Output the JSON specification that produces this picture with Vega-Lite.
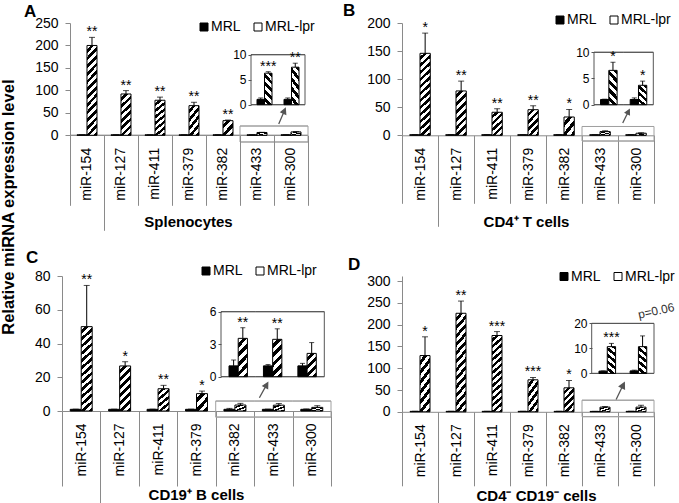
{
"$schema": "https://vega.github.io/schema/vega-lite/v6.json",
"background": "white",
"padding": {"left": 0, "top": 2, "right": 0, "bottom": 0},
"params": [
{"name": "M90", "value": {"gradient": "linear", "x1": 0, "y1": 0, "x2": 0.1285, "y2": 1.1017, "stops": [{"offset":0,"color":"#fff"},{"offset":0.0385,"color":"#fff"},{"offset":0.0385,"color":"#000"},{"offset":0.0769,"color":"#000"},{"offset":0.0769,"color":"#fff"},{"offset":0.1154,"color":"#fff"},{"offset":0.1154,"color":"#000"},{"offset":0.1538,"color":"#000"},{"offset":0.1538,"color":"#fff"},{"offset":0.1923,"color":"#fff"},{"offset":0.1923,"color":"#000"},{"offset":0.2308,"color":"#000"},{"offset":0.2308,"color":"#fff"},{"offset":0.2692,"color":"#fff"},{"offset":0.2692,"color":"#000"},{"offset":0.3077,"color":"#000"},{"offset":0.3077,"color":"#fff"},{"offset":0.3462,"color":"#fff"},{"offset":0.3462,"color":"#000"},{"offset":0.3846,"color":"#000"},{"offset":0.3846,"color":"#fff"},{"offset":0.4231,"color":"#fff"},{"offset":0.4231,"color":"#000"},{"offset":0.4615,"color":"#000"},{"offset":0.4615,"color":"#fff"},{"offset":0.5,"color":"#fff"},{"offset":0.5,"color":"#000"},{"offset":0.5385,"color":"#000"},{"offset":0.5385,"color":"#fff"},{"offset":0.5769,"color":"#fff"},{"offset":0.5769,"color":"#000"},{"offset":0.6154,"color":"#000"},{"offset":0.6154,"color":"#fff"},{"offset":0.6538,"color":"#fff"},{"offset":0.6538,"color":"#000"},{"offset":0.6923,"color":"#000"},{"offset":0.6923,"color":"#fff"},{"offset":0.7308,"color":"#fff"},{"offset":0.7308,"color":"#000"},{"offset":0.7692,"color":"#000"},{"offset":0.7692,"color":"#fff"},{"offset":0.8077,"color":"#fff"},{"offset":0.8077,"color":"#000"},{"offset":0.8462,"color":"#000"},{"offset":0.8462,"color":"#fff"},{"offset":0.8846,"color":"#fff"},{"offset":0.8846,"color":"#000"},{"offset":0.9231,"color":"#000"},{"offset":0.9231,"color":"#fff"},{"offset":0.9615,"color":"#fff"},{"offset":0.9615,"color":"#000"},{"offset":1,"color":"#000"}]}},
{"name": "M45", "value": {"gradient": "linear", "x1": 0, "y1": 0, "x2": 0.2729, "y2": 1.1696, "stops": [{"offset":0,"color":"#fff"},{"offset":0.0714,"color":"#fff"},{"offset":0.0714,"color":"#000"},{"offset":0.1429,"color":"#000"},{"offset":0.1429,"color":"#fff"},{"offset":0.2143,"color":"#fff"},{"offset":0.2143,"color":"#000"},{"offset":0.2857,"color":"#000"},{"offset":0.2857,"color":"#fff"},{"offset":0.3571,"color":"#fff"},{"offset":0.3571,"color":"#000"},{"offset":0.4286,"color":"#000"},{"offset":0.4286,"color":"#fff"},{"offset":0.5,"color":"#fff"},{"offset":0.5,"color":"#000"},{"offset":0.5714,"color":"#000"},{"offset":0.5714,"color":"#fff"},{"offset":0.6429,"color":"#fff"},{"offset":0.6429,"color":"#000"},{"offset":0.7143,"color":"#000"},{"offset":0.7143,"color":"#fff"},{"offset":0.7857,"color":"#fff"},{"offset":0.7857,"color":"#000"},{"offset":0.8571,"color":"#000"},{"offset":0.8571,"color":"#fff"},{"offset":0.9286,"color":"#fff"},{"offset":0.9286,"color":"#000"},{"offset":1,"color":"#000"}]}},
{"name": "M25", "value": {"gradient": "linear", "x1": 0, "y1": 0, "x2": 0.507, "y2": 1.207, "stops": [{"offset":0,"color":"#fff"},{"offset":0.1,"color":"#fff"},{"offset":0.1,"color":"#000"},{"offset":0.2,"color":"#000"},{"offset":0.2,"color":"#fff"},{"offset":0.3,"color":"#fff"},{"offset":0.3,"color":"#000"},{"offset":0.4,"color":"#000"},{"offset":0.4,"color":"#fff"},{"offset":0.5,"color":"#fff"},{"offset":0.5,"color":"#000"},{"offset":0.6,"color":"#000"},{"offset":0.6,"color":"#fff"},{"offset":0.7,"color":"#fff"},{"offset":0.7,"color":"#000"},{"offset":0.8,"color":"#000"},{"offset":0.8,"color":"#fff"},{"offset":0.9,"color":"#fff"},{"offset":0.9,"color":"#000"},{"offset":1,"color":"#000"}]}},
{"name": "M15", "value": {"gradient": "linear", "x1": 0, "y1": 0, "x2": 0.7987, "y2": 1.141, "stops": [{"offset":0,"color":"#fff"},{"offset":0.1667,"color":"#fff"},{"offset":0.1667,"color":"#000"},{"offset":0.3333,"color":"#000"},{"offset":0.3333,"color":"#fff"},{"offset":0.5,"color":"#fff"},{"offset":0.5,"color":"#000"},{"offset":0.6667,"color":"#000"},{"offset":0.6667,"color":"#fff"},{"offset":0.8333,"color":"#fff"},{"offset":0.8333,"color":"#000"},{"offset":1,"color":"#000"}]}},
{"name": "I33", "value": {"gradient": "linear", "x1": 0, "y1": 1, "x2": 0.296, "y2": -0.177, "stops": [{"offset":0,"color":"#fff"},{"offset":0.1,"color":"#fff"},{"offset":0.1,"color":"#000"},{"offset":0.2,"color":"#000"},{"offset":0.2,"color":"#fff"},{"offset":0.3,"color":"#fff"},{"offset":0.3,"color":"#000"},{"offset":0.4,"color":"#000"},{"offset":0.4,"color":"#fff"},{"offset":0.5,"color":"#fff"},{"offset":0.5,"color":"#000"},{"offset":0.6,"color":"#000"},{"offset":0.6,"color":"#fff"},{"offset":0.7,"color":"#fff"},{"offset":0.7,"color":"#000"},{"offset":0.8,"color":"#000"},{"offset":0.8,"color":"#fff"},{"offset":0.9,"color":"#fff"},{"offset":0.9,"color":"#000"},{"offset":1,"color":"#000"}]}},
{"name": "I22", "value": {"gradient": "linear", "x1": 0, "y1": 1, "x2": 0.455, "y2": -0.206, "stops": [{"offset":0,"color":"#fff"},{"offset":0.125,"color":"#fff"},{"offset":0.125,"color":"#000"},{"offset":0.25,"color":"#000"},{"offset":0.25,"color":"#fff"},{"offset":0.375,"color":"#fff"},{"offset":0.375,"color":"#000"},{"offset":0.5,"color":"#000"},{"offset":0.5,"color":"#fff"},{"offset":0.625,"color":"#fff"},{"offset":0.625,"color":"#000"},{"offset":0.75,"color":"#000"},{"offset":0.75,"color":"#fff"},{"offset":0.875,"color":"#fff"},{"offset":0.875,"color":"#000"},{"offset":1,"color":"#000"}]}},
{"name": "IC33", "value": {"gradient": "linear", "x1": 0, "y1": 0, "x2": 0.296, "y2": 1.177, "stops": [{"offset":0,"color":"#fff"},{"offset":0.1,"color":"#fff"},{"offset":0.1,"color":"#000"},{"offset":0.2,"color":"#000"},{"offset":0.2,"color":"#fff"},{"offset":0.3,"color":"#fff"},{"offset":0.3,"color":"#000"},{"offset":0.4,"color":"#000"},{"offset":0.4,"color":"#fff"},{"offset":0.5,"color":"#fff"},{"offset":0.5,"color":"#000"},{"offset":0.6,"color":"#000"},{"offset":0.6,"color":"#fff"},{"offset":0.7,"color":"#fff"},{"offset":0.7,"color":"#000"},{"offset":0.8,"color":"#000"},{"offset":0.8,"color":"#fff"},{"offset":0.9,"color":"#fff"},{"offset":0.9,"color":"#000"},{"offset":1,"color":"#000"}]}},
{"name": "IC22", "value": {"gradient": "linear", "x1": 0, "y1": 0, "x2": 0.455, "y2": 1.206, "stops": [{"offset":0,"color":"#fff"},{"offset":0.125,"color":"#fff"},{"offset":0.125,"color":"#000"},{"offset":0.25,"color":"#000"},{"offset":0.25,"color":"#fff"},{"offset":0.375,"color":"#fff"},{"offset":0.375,"color":"#000"},{"offset":0.5,"color":"#000"},{"offset":0.5,"color":"#fff"},{"offset":0.625,"color":"#fff"},{"offset":0.625,"color":"#000"},{"offset":0.75,"color":"#000"},{"offset":0.75,"color":"#fff"},{"offset":0.875,"color":"#fff"},{"offset":0.875,"color":"#000"},{"offset":1,"color":"#000"}]}}
],
"datasets": {
"A": [
{"mir":"miR-154","strain":"MRL","value":1,"hi":1.2},{"mir":"miR-154","strain":"MRL-lpr","value":200,"hi":218,"sig":"**"},
{"mir":"miR-127","strain":"MRL","value":1,"hi":1.2},{"mir":"miR-127","strain":"MRL-lpr","value":92,"hi":99.5,"sig":"**"},
{"mir":"miR-411","strain":"MRL","value":1,"hi":1.2},{"mir":"miR-411","strain":"MRL-lpr","value":78,"hi":85,"sig":"**"},
{"mir":"miR-379","strain":"MRL","value":1,"hi":1.2},{"mir":"miR-379","strain":"MRL-lpr","value":66,"hi":73.5,"sig":"**"},
{"mir":"miR-382","strain":"MRL","value":1,"hi":1.2},{"mir":"miR-382","strain":"MRL-lpr","value":32.6,"hi":34,"sig":"**"},
{"mir":"miR-433","strain":"MRL","value":1.07,"hi":1.35},{"mir":"miR-433","strain":"MRL-lpr","value":6.3,"hi":6.6,"sig":"***"},
{"mir":"miR-300","strain":"MRL","value":1.07,"hi":1.35},{"mir":"miR-300","strain":"MRL-lpr","value":7.5,"hi":8.3,"sig":"**"}
],
"B": [
{"mir":"miR-154","strain":"MRL","value":1,"hi":1.1},{"mir":"miR-154","strain":"MRL-lpr","value":146,"hi":182,"sig":"*"},
{"mir":"miR-127","strain":"MRL","value":1,"hi":1.1},{"mir":"miR-127","strain":"MRL-lpr","value":79,"hi":96.5,"sig":"**"},
{"mir":"miR-411","strain":"MRL","value":1,"hi":1.1},{"mir":"miR-411","strain":"MRL-lpr","value":41,"hi":47.3,"sig":"**"},
{"mir":"miR-379","strain":"MRL","value":1,"hi":1.1},{"mir":"miR-379","strain":"MRL-lpr","value":45.6,"hi":52.6,"sig":"**"},
{"mir":"miR-382","strain":"MRL","value":1,"hi":1.1},{"mir":"miR-382","strain":"MRL-lpr","value":32.6,"hi":46,"sig":"*"},
{"mir":"miR-433","strain":"MRL","value":1,"hi":1.05},{"mir":"miR-433","strain":"MRL-lpr","value":6.55,"hi":8.1,"sig":"*"},
{"mir":"miR-300","strain":"MRL","value":1,"hi":1.3},{"mir":"miR-300","strain":"MRL-lpr","value":3.7,"hi":4.5,"sig":"*"}
],
"C": [
{"mir":"miR-154","strain":"MRL","value":1,"hi":1.1},{"mir":"miR-154","strain":"MRL-lpr","value":50,"hi":74.4,"sig":"**"},
{"mir":"miR-127","strain":"MRL","value":1,"hi":1.1},{"mir":"miR-127","strain":"MRL-lpr","value":26.7,"hi":29.2,"sig":"*"},
{"mir":"miR-411","strain":"MRL","value":1,"hi":1.1},{"mir":"miR-411","strain":"MRL-lpr","value":13.2,"hi":15.2,"sig":"**"},
{"mir":"miR-379","strain":"MRL","value":1,"hi":1.1},{"mir":"miR-379","strain":"MRL-lpr","value":10.3,"hi":11.8,"sig":"*"},
{"mir":"miR-382","strain":"MRL","value":1,"hi":1.54},{"mir":"miR-382","strain":"MRL-lpr","value":3.54,"hi":4.52,"sig":"**"},
{"mir":"miR-433","strain":"MRL","value":1,"hi":1.12},{"mir":"miR-433","strain":"MRL-lpr","value":3.45,"hi":4.42,"sig":"**"},
{"mir":"miR-300","strain":"MRL","value":1,"hi":1.23},{"mir":"miR-300","strain":"MRL-lpr","value":2.15,"hi":3.15}
],
"D": [
{"mir":"miR-154","strain":"MRL","value":1,"hi":1.2},{"mir":"miR-154","strain":"MRL-lpr","value":129,"hi":172,"sig":"*"},
{"mir":"miR-127","strain":"MRL","value":1,"hi":1.2},{"mir":"miR-127","strain":"MRL-lpr","value":226,"hi":254,"sig":"**"},
{"mir":"miR-411","strain":"MRL","value":1,"hi":1.2},{"mir":"miR-411","strain":"MRL-lpr","value":175,"hi":184,"sig":"***"},
{"mir":"miR-379","strain":"MRL","value":1,"hi":1.2},{"mir":"miR-379","strain":"MRL-lpr","value":73.4,"hi":78.7,"sig":"***"},
{"mir":"miR-382","strain":"MRL","value":1,"hi":1.2},{"mir":"miR-382","strain":"MRL-lpr","value":55,"hi":71.8,"sig":"*"},
{"mir":"miR-433","strain":"MRL","value":0.9,"hi":1.0},{"mir":"miR-433","strain":"MRL-lpr","value":10.7,"hi":12.0,"sig":"***"},
{"mir":"miR-300","strain":"MRL","value":1,"hi":1.3},{"mir":"miR-300","strain":"MRL-lpr","value":10.7,"hi":15.0}
]
},
"title": {"text": "Relative miRNA expression level", "orient": "left", "anchor": "middle", "fontSize": 16.5, "fontWeight": "bold", "offset": 6.5, "dx": 50},
"columns": 2,
"spacing": {"row": 140, "column": 71},
"bounds": "flush",
"align": "each",
"resolve": {"scale": {"fill": "independent"}, "legend": {"fill": "independent"}},
"concat": [
{
"width": 246, "height": 112.3,
"data": {"name": "A"},
"title": {"text": "A", "anchor": "start", "frame": "group", "dx": -38, "dy": 8, "offset": 3},
"layer": [
{"encoding": {
 "x": {"field": "mir", "type": "nominal", "scale": {"domain": ["miR-154","miR-127","miR-411","miR-379","miR-382","miR-433","miR-300"], "paddingInner": 0, "paddingOuter": 0.1176, "align": 1},
  "axis": {"title": "Splenocytes", "titleX": 126, "titleY": 91, "domain": false, "tickSize": {"condition": {"test": "datum.value === 'miR-154'", "value": 95}, "value": 70}, "labelPadding": {"condition": {"test": "datum.value === 'miR-154'", "value": -83}, "value": -58}}},
 "y": {"field": "value", "type": "quantitative", "scale": {"domain": [0, 250], "nice": false}, "axis": {"values": [0,50,100,150,200,250], "offset": -8, "title": null}}},
 "layer": [
  {"transform": [{"filter": "datum.strain === 'MRL'"}], "mark": {"type": "rect", "filled": false, "stroke": "#8a8a8a"}, "encoding": {"y": {"datum": 0}, "y2": {"datum": 0}}},
  {"mark": {"type": "bar", "stroke": "black", "strokeWidth": 1}, "encoding": {
    "xOffset": {"field": "strain", "type": "nominal", "scale": {"domain": ["MRL","MRL-lpr"], "paddingInner": 0, "paddingOuter": 0.7}},
    "fill": {"field": "strain", "type": "nominal", "scale": {"domain": ["MRL","MRL-lpr"], "range": ["#000000","#ffffff"]},
     "legend": {"title": null, "legendX": 135, "legendY": -3},
     "condition": [{"test": "datum.strain === 'MRL-lpr' && datum.value > 150", "value": {"expr": "M90"}}, {"test": "datum.strain === 'MRL-lpr' && datum.value > 70", "value": {"expr": "M45"}}, {"test": "datum.strain === 'MRL-lpr' && datum.value > 50", "value": {"expr": "M25"}}, {"test": "datum.strain === 'MRL-lpr'", "value": {"expr": "M15"}}]}}},
  {"mark": {"type": "rule", "color": "black"}, "encoding": {"xOffset": {"field": "strain", "type": "nominal"}, "y2": {"field": "hi"}}},
  {"mark": {"type": "tick", "orient": "horizontal", "size": 6, "thickness": 1, "color": "black"}, "encoding": {"xOffset": {"field": "strain", "type": "nominal"}, "y": {"field": "hi", "type": "quantitative"}}},
  {"transform": [{"filter": "datum.sig && datum.mir !== 'miR-433' && datum.mir !== 'miR-300'"}], "mark": {"type": "text", "baseline": "alphabetic", "dy": -1, "fontSize": 14, "color": "black"}, "encoding": {"xOffset": {"field": "strain", "type": "nominal"}, "y": {"field": "hi", "type": "quantitative"}, "text": {"field": "sig"}}},
  {"transform": [{"filter": "datum.strain === 'MRL' && (datum.mir === 'miR-433' || datum.mir === 'miR-300')"}], "mark": {"type": "rect", "filled": false, "stroke": "#a0a0a0"}, "encoding": {"y": {"datum": 20.7}, "y2": {"datum": 20.7}}},
  {"transform": [{"filter": "datum.strain === 'MRL' && (datum.mir === 'miR-433' || datum.mir === 'miR-300')"}], "mark": {"type": "rect", "filled": false, "stroke": "#a0a0a0"}, "encoding": {"y": {"datum": -14.9}, "y2": {"datum": -14.9}}},
  {"transform": [{"filter": "datum.strain === 'MRL' && datum.mir === 'miR-433'"}], "mark": {"type": "rule", "color": "#a0a0a0"}, "encoding": {"x": {"field": "mir", "type": "nominal", "bandPosition": 0}, "y": {"datum": 20.7}, "y2": {"datum": -14.9}}},
  {"transform": [{"filter": "datum.strain === 'MRL' && datum.mir === 'miR-300'"}], "mark": {"type": "rule", "color": "#a0a0a0"}, "encoding": {"x": {"field": "mir", "type": "nominal", "bandPosition": 1}, "y": {"datum": 20.7}, "y2": {"datum": -14.9}}},
  {"transform": [{"filter": "datum.strain === 'MRL' && datum.mir === 'miR-300'"}], "mark": {"type": "point", "shape": "M0,0.92L0,-0.5M0,-0.92L0.28,-0.38L-0.28,-0.38Z", "size": 329, "angle": 23, "filled": true, "fill": "#555555", "stroke": "#555555", "strokeWidth": 1.3, "opacity": 1}, "encoding": {"x": {"field": "mir", "type": "nominal", "bandPosition": 0.235}, "y": {"datum": 42.2}}}
 ]},
{"encoding": {
 "x": {"field": "mir", "type": "nominal", "scale": {"domain": ["miR-433","miR-300"], "paddingInner": 0, "paddingOuter": 0, "range": [189, 243]}, "axis": null},
 "y": {"field": "value", "type": "quantitative", "scale": {"domain": [-6.12, 16.34], "nice": false, "zero": false}, "axis": {"orient": "left", "offset": -189, "values": [0,5,10], "domain": false, "tickSize": 3, "labelFontSize": 12, "labelPadding": 2, "title": null, "tickColor": "#555555"}}},
 "layer": [
  {"transform": [{"filter": "datum.strain === 'MRL' && (datum.mir === 'miR-433' || datum.mir === 'miR-300')"}], "mark": {"type": "rect", "filled": false, "stroke": "#555555"}, "encoding": {"y": {"datum": 10}, "y2": {"datum": 10}}},
  {"transform": [{"filter": "datum.strain === 'MRL' && (datum.mir === 'miR-433' || datum.mir === 'miR-300')"}], "mark": {"type": "rect", "filled": false, "stroke": "#555555"}, "encoding": {"y": {"datum": 0}, "y2": {"datum": 0}}},
  {"transform": [{"filter": "datum.strain === 'MRL' && datum.mir === 'miR-433'"}], "mark": {"type": "rule", "color": "#555555"}, "encoding": {"x": {"field": "mir", "type": "nominal", "bandPosition": 0}, "y": {"datum": 0}, "y2": {"datum": 10}}},
  {"transform": [{"filter": "datum.strain === 'MRL' && datum.mir === 'miR-300'"}], "mark": {"type": "rule", "color": "#555555"}, "encoding": {"x": {"field": "mir", "type": "nominal", "bandPosition": 1}, "y": {"datum": 0}, "y2": {"datum": 10}}},
  {"transform": [{"filter": {"field": "mir", "oneOf": ["miR-433","miR-300"]}}], "mark": {"type": "bar", "stroke": "black", "strokeWidth": 1}, "encoding": {"xOffset": {"field": "strain", "type": "nominal", "scale": {"domain": ["MRL","MRL-lpr"], "paddingInner": 0, "paddingOuter": 0.8}}, "fill": {"condition": {"test": "datum.strain === 'MRL-lpr'", "value": {"expr": "I33"}}, "value": "black"}}},
  {"transform": [{"filter": {"field": "mir", "oneOf": ["miR-433","miR-300"]}}], "mark": {"type": "rule", "color": "black"}, "encoding": {"xOffset": {"field": "strain", "type": "nominal"}, "y2": {"field": "hi"}}},
  {"transform": [{"filter": {"field": "mir", "oneOf": ["miR-433","miR-300"]}}], "mark": {"type": "tick", "orient": "horizontal", "size": 5, "thickness": 1, "color": "black"}, "encoding": {"xOffset": {"field": "strain", "type": "nominal"}, "y": {"field": "hi", "type": "quantitative"}}},
  {"transform": [{"filter": "datum.sig && (datum.mir === 'miR-433' || datum.mir === 'miR-300')"}], "mark": {"type": "text", "baseline": "alphabetic", "dy": -1, "fontSize": 14, "color": "black"}, "encoding": {"xOffset": {"field": "strain", "type": "nominal"}, "y": {"field": "hi", "type": "quantitative"}, "text": {"field": "sig"}}}
 ]}
],
"resolve": {"scale": {"x": "independent", "y": "independent", "xOffset": "independent"}}
},
{
"width": 252, "height": 112.3,
"data": {"name": "B"},
"title": {"text": "B", "anchor": "start", "frame": "group", "dx": -59, "dy": 13, "offset": 6},
"layer": [
{"encoding": {
 "x": {"field": "mir", "type": "nominal", "scale": {"domain": ["miR-154","miR-127","miR-411","miR-379","miR-382","miR-433","miR-300"], "paddingInner": 0, "paddingOuter": 0},
  "axis": {"title": "CD4⁺ T cells", "titleX": 124, "titleY": 91, "domain": true, "tickSize": {"condition": {"test": "datum.value === 'miR-154'", "value": 91}, "value": 68}, "labelPadding": {"condition": {"test": "datum.value === 'miR-154'", "value": -79}, "value": -56}}},
 "y": {"field": "value", "type": "quantitative", "scale": {"domain": [0, 200], "nice": false}, "axis": {"values": [0,50,100,150,200], "title": null}}},
 "layer": [
  {"mark": {"type": "bar", "stroke": "black", "strokeWidth": 1}, "encoding": {
    "xOffset": {"field": "strain", "type": "nominal", "scale": {"domain": ["MRL","MRL-lpr"], "paddingInner": 0, "paddingOuter": 0.75}},
    "fill": {"field": "strain", "type": "nominal", "scale": {"domain": ["MRL","MRL-lpr"], "range": ["#000000","#ffffff"]},
     "legend": {"title": null, "legendX": 151, "legendY": -10},
     "condition": [{"test": "datum.strain === 'MRL-lpr' && datum.value > 100", "value": {"expr": "M90"}}, {"test": "datum.strain === 'MRL-lpr' && datum.value > 60", "value": {"expr": "M45"}}, {"test": "datum.strain === 'MRL-lpr' && datum.value > 38", "value": {"expr": "M25"}}, {"test": "datum.strain === 'MRL-lpr'", "value": {"expr": "M15"}}]}}},
  {"mark": {"type": "rule", "color": "black"}, "encoding": {"xOffset": {"field": "strain", "type": "nominal"}, "y2": {"field": "hi"}}},
  {"mark": {"type": "tick", "orient": "horizontal", "size": 6, "thickness": 1, "color": "black"}, "encoding": {"xOffset": {"field": "strain", "type": "nominal"}, "y": {"field": "hi", "type": "quantitative"}}},
  {"transform": [{"filter": "datum.sig && datum.mir !== 'miR-433' && datum.mir !== 'miR-300'"}], "mark": {"type": "text", "baseline": "alphabetic", "dy": -1, "fontSize": 14, "color": "black"}, "encoding": {"xOffset": {"field": "strain", "type": "nominal"}, "y": {"field": "hi", "type": "quantitative"}, "text": {"field": "sig"}}},
  {"transform": [{"filter": "datum.strain === 'MRL' && (datum.mir === 'miR-433' || datum.mir === 'miR-300')"}], "mark": {"type": "rect", "filled": false, "stroke": "#a0a0a0"}, "encoding": {"y": {"datum": 15.7}, "y2": {"datum": 15.7}}},
  {"transform": [{"filter": "datum.strain === 'MRL' && (datum.mir === 'miR-433' || datum.mir === 'miR-300')"}], "mark": {"type": "rect", "filled": false, "stroke": "#a0a0a0"}, "encoding": {"y": {"datum": -10.2}, "y2": {"datum": -10.2}}},
  {"transform": [{"filter": "datum.strain === 'MRL' && datum.mir === 'miR-433'"}], "mark": {"type": "rule", "color": "#a0a0a0"}, "encoding": {"x": {"field": "mir", "type": "nominal", "bandPosition": 0}, "y": {"datum": 15.7}, "y2": {"datum": -10.2}}},
  {"transform": [{"filter": "datum.strain === 'MRL' && datum.mir === 'miR-300'"}], "mark": {"type": "rule", "color": "#a0a0a0"}, "encoding": {"x": {"field": "mir", "type": "nominal", "bandPosition": 1}, "y": {"datum": 15.7}, "y2": {"datum": -10.2}}},
  {"transform": [{"filter": "datum.strain === 'MRL' && datum.mir === 'miR-300'"}], "mark": {"type": "point", "shape": "M0,0.92L0,-0.5M0,-0.92L0.28,-0.38L-0.28,-0.38Z", "size": 262, "angle": 26, "filled": true, "fill": "#555555", "stroke": "#555555", "strokeWidth": 1.3, "opacity": 1}, "encoding": {"x": {"field": "mir", "type": "nominal", "bandPosition": 0.222}, "y": {"datum": 33.7}}}
 ]},
{"encoding": {
 "x": {"field": "mir", "type": "nominal", "scale": {"domain": ["miR-433","miR-300"], "paddingInner": 0, "paddingOuter": 0, "range": [192, 251.3]}, "axis": null},
 "y": {"field": "value", "type": "quantitative", "scale": {"domain": [-5.84, 15.59], "nice": false, "zero": false}, "axis": {"orient": "left", "offset": -192, "values": [0,5,10], "domain": false, "tickSize": 3, "labelFontSize": 12, "labelPadding": 2, "title": null, "tickColor": "#555555"}}},
 "layer": [
  {"transform": [{"filter": "datum.strain === 'MRL' && (datum.mir === 'miR-433' || datum.mir === 'miR-300')"}], "mark": {"type": "rect", "filled": false, "stroke": "#555555"}, "encoding": {"y": {"datum": 10}, "y2": {"datum": 10}}},
  {"transform": [{"filter": "datum.strain === 'MRL' && (datum.mir === 'miR-433' || datum.mir === 'miR-300')"}], "mark": {"type": "rect", "filled": false, "stroke": "#555555"}, "encoding": {"y": {"datum": 0}, "y2": {"datum": 0}}},
  {"transform": [{"filter": "datum.strain === 'MRL' && datum.mir === 'miR-433'"}], "mark": {"type": "rule", "color": "#555555"}, "encoding": {"x": {"field": "mir", "type": "nominal", "bandPosition": 0}, "y": {"datum": 0}, "y2": {"datum": 10}}},
  {"transform": [{"filter": "datum.strain === 'MRL' && datum.mir === 'miR-300'"}], "mark": {"type": "rule", "color": "#555555"}, "encoding": {"x": {"field": "mir", "type": "nominal", "bandPosition": 1}, "y": {"datum": 0}, "y2": {"datum": 10}}},
  {"transform": [{"filter": {"field": "mir", "oneOf": ["miR-433","miR-300"]}}], "mark": {"type": "bar", "stroke": "black", "strokeWidth": 1}, "encoding": {"xOffset": {"field": "strain", "type": "nominal", "scale": {"domain": ["MRL","MRL-lpr"], "paddingInner": 0, "paddingOuter": 0.79}}, "fill": {"condition": [{"test": "datum.strain === 'MRL-lpr' && datum.value > 5", "value": {"expr": "I33"}}, {"test": "datum.strain === 'MRL-lpr'", "value": {"expr": "I22"}}], "value": "black"}}},
  {"transform": [{"filter": {"field": "mir", "oneOf": ["miR-433","miR-300"]}}], "mark": {"type": "rule", "color": "black"}, "encoding": {"xOffset": {"field": "strain", "type": "nominal"}, "y2": {"field": "hi"}}},
  {"transform": [{"filter": {"field": "mir", "oneOf": ["miR-433","miR-300"]}}], "mark": {"type": "tick", "orient": "horizontal", "size": 5, "thickness": 1, "color": "black"}, "encoding": {"xOffset": {"field": "strain", "type": "nominal"}, "y": {"field": "hi", "type": "quantitative"}}},
  {"transform": [{"filter": "datum.sig && (datum.mir === 'miR-433' || datum.mir === 'miR-300')"}], "mark": {"type": "text", "baseline": "alphabetic", "dy": -1, "fontSize": 14, "color": "black"}, "encoding": {"xOffset": {"field": "strain", "type": "nominal"}, "y": {"field": "hi", "type": "quantitative"}, "text": {"field": "sig"}}}
 ]}
],
"resolve": {"scale": {"x": "independent", "y": "independent", "xOffset": "independent"}}
},
{
"width": 269, "height": 135,
"data": {"name": "C"},
"title": {"text": "C", "anchor": "start", "frame": "group", "dx": -36, "dy": 11, "offset": 8},
"layer": [
{"encoding": {
 "x": {"field": "mir", "type": "nominal", "scale": {"domain": ["miR-154","miR-127","miR-411","miR-379","miR-382","miR-433","miR-300"], "paddingInner": 0, "paddingOuter": 0},
  "axis": {"title": "CD19⁺ B cells", "titleX": 134, "titleY": 88, "domain": true, "tickSize": {"condition": {"test": "datum.value === 'miR-154'", "value": 100}, "value": 75}, "labelPadding": {"condition": {"test": "datum.value === 'miR-154'", "value": -88}, "value": -63}}},
 "y": {"field": "value", "type": "quantitative", "scale": {"domain": [0, 80], "nice": false}, "axis": {"values": [0,20,40,60,80], "title": null}}},
 "layer": [
  {"mark": {"type": "bar", "stroke": "black", "strokeWidth": 1}, "encoding": {
    "xOffset": {"field": "strain", "type": "nominal", "scale": {"domain": ["MRL","MRL-lpr"], "paddingInner": 0, "paddingOuter": 0.75}},
    "fill": {"field": "strain", "type": "nominal", "scale": {"domain": ["MRL","MRL-lpr"], "range": ["#000000","#ffffff"]},
     "legend": {"title": null, "legendX": 137, "legendY": -12},
     "condition": [{"test": "datum.strain === 'MRL-lpr' && datum.value > 40", "value": {"expr": "M90"}}, {"test": "datum.strain === 'MRL-lpr' && datum.value > 20", "value": {"expr": "M45"}}, {"test": "datum.strain === 'MRL-lpr' && datum.value > 12", "value": {"expr": "M25"}}, {"test": "datum.strain === 'MRL-lpr'", "value": {"expr": "M15"}}]}}},
  {"mark": {"type": "rule", "color": "black"}, "encoding": {"xOffset": {"field": "strain", "type": "nominal"}, "y2": {"field": "hi"}}},
  {"mark": {"type": "tick", "orient": "horizontal", "size": 6, "thickness": 1, "color": "black"}, "encoding": {"xOffset": {"field": "strain", "type": "nominal"}, "y": {"field": "hi", "type": "quantitative"}}},
  {"transform": [{"filter": "datum.sig && datum.mir !== 'miR-382' && datum.mir !== 'miR-433' && datum.mir !== 'miR-300'"}], "mark": {"type": "text", "baseline": "alphabetic", "dy": -1, "fontSize": 14, "color": "black"}, "encoding": {"xOffset": {"field": "strain", "type": "nominal"}, "y": {"field": "hi", "type": "quantitative"}, "text": {"field": "sig"}}},
  {"transform": [{"filter": "datum.strain === 'MRL' && (datum.mir === 'miR-382' || datum.mir === 'miR-433' || datum.mir === 'miR-300')"}], "mark": {"type": "rect", "filled": false, "stroke": "#a0a0a0"}, "encoding": {"y": {"datum": 5.9}, "y2": {"datum": 5.9}}},
  {"transform": [{"filter": "datum.strain === 'MRL' && (datum.mir === 'miR-382' || datum.mir === 'miR-433' || datum.mir === 'miR-300')"}], "mark": {"type": "rect", "filled": false, "stroke": "#a0a0a0"}, "encoding": {"y": {"datum": -3.6}, "y2": {"datum": -3.6}}},
  {"transform": [{"filter": "datum.strain === 'MRL' && datum.mir === 'miR-382'"}], "mark": {"type": "rule", "color": "#a0a0a0"}, "encoding": {"x": {"field": "mir", "type": "nominal", "bandPosition": 0}, "y": {"datum": 5.9}, "y2": {"datum": -3.6}}},
  {"transform": [{"filter": "datum.strain === 'MRL' && datum.mir === 'miR-300'"}], "mark": {"type": "rule", "color": "#a0a0a0"}, "encoding": {"x": {"field": "mir", "type": "nominal", "bandPosition": 1}, "y": {"datum": 5.9}, "y2": {"datum": -3.6}}},
  {"transform": [{"filter": "datum.strain === 'MRL' && datum.mir === 'miR-433'"}], "mark": {"type": "point", "shape": "M0,0.92L0,-0.5M0,-0.92L0.28,-0.38L-0.28,-0.38Z", "size": 350, "angle": 29, "filled": true, "fill": "#555555", "stroke": "#555555", "strokeWidth": 1.3, "opacity": 1}, "encoding": {"x": {"field": "mir", "type": "nominal", "bandPosition": 0.245}, "y": {"datum": 12.3}}}
 ]},
{"encoding": {
 "x": {"field": "mir", "type": "nominal", "scale": {"domain": ["miR-382","miR-433","miR-300"], "paddingInner": 0, "paddingOuter": 0, "range": [159, 262.3]}, "axis": null},
 "y": {"field": "value", "type": "quantitative", "scale": {"domain": [-3.167, 9.296], "nice": false, "zero": false}, "axis": {"orient": "left", "offset": -159, "values": [0,3,6], "domain": false, "tickSize": 3, "labelFontSize": 12, "labelPadding": 2, "title": null, "tickColor": "#555555"}}},
 "layer": [
  {"transform": [{"filter": "datum.strain === 'MRL' && (datum.mir === 'miR-382' || datum.mir === 'miR-433' || datum.mir === 'miR-300')"}], "mark": {"type": "rect", "filled": false, "stroke": "#555555"}, "encoding": {"y": {"datum": 6}, "y2": {"datum": 6}}},
  {"transform": [{"filter": "datum.strain === 'MRL' && (datum.mir === 'miR-382' || datum.mir === 'miR-433' || datum.mir === 'miR-300')"}], "mark": {"type": "rect", "filled": false, "stroke": "#555555"}, "encoding": {"y": {"datum": 0}, "y2": {"datum": 0}}},
  {"transform": [{"filter": "datum.strain === 'MRL' && datum.mir === 'miR-382'"}], "mark": {"type": "rule", "color": "#555555"}, "encoding": {"x": {"field": "mir", "type": "nominal", "bandPosition": 0}, "y": {"datum": 0}, "y2": {"datum": 6}}},
  {"transform": [{"filter": "datum.strain === 'MRL' && datum.mir === 'miR-300'"}], "mark": {"type": "rule", "color": "#555555"}, "encoding": {"x": {"field": "mir", "type": "nominal", "bandPosition": 1}, "y": {"datum": 0}, "y2": {"datum": 6}}},
  {"transform": [{"filter": {"field": "mir", "oneOf": ["miR-382","miR-433","miR-300"]}}], "mark": {"type": "bar", "stroke": "black", "strokeWidth": 1}, "encoding": {"xOffset": {"field": "strain", "type": "nominal", "scale": {"domain": ["MRL","MRL-lpr"], "paddingInner": 0, "paddingOuter": 0.87}}, "fill": {"condition": [{"test": "datum.strain === 'MRL-lpr' && datum.value > 3", "value": {"expr": "IC33"}}, {"test": "datum.strain === 'MRL-lpr'", "value": {"expr": "IC22"}}], "value": "black"}}},
  {"transform": [{"filter": {"field": "mir", "oneOf": ["miR-382","miR-433","miR-300"]}}], "mark": {"type": "rule", "color": "black"}, "encoding": {"xOffset": {"field": "strain", "type": "nominal"}, "y2": {"field": "hi"}}},
  {"transform": [{"filter": {"field": "mir", "oneOf": ["miR-382","miR-433","miR-300"]}}], "mark": {"type": "tick", "orient": "horizontal", "size": 5, "thickness": 1, "color": "black"}, "encoding": {"xOffset": {"field": "strain", "type": "nominal"}, "y": {"field": "hi", "type": "quantitative"}}},
  {"transform": [{"filter": "datum.sig && (datum.mir === 'miR-382' || datum.mir === 'miR-433' || datum.mir === 'miR-300')"}], "mark": {"type": "text", "baseline": "alphabetic", "dy": -1, "fontSize": 14, "color": "black"}, "encoding": {"xOffset": {"field": "strain", "type": "nominal"}, "y": {"field": "hi", "type": "quantitative"}, "text": {"field": "sig"}}}
 ]}
],
"resolve": {"scale": {"x": "independent", "y": "independent", "xOffset": "independent"}}
},
{
"width": 252, "height": 135.8,
"data": {"name": "D"},
"title": {"text": "D", "anchor": "start", "frame": "group", "dx": -54, "dy": 4, "offset": 0},
"layer": [
{"encoding": {
 "x": {"field": "mir", "type": "nominal", "scale": {"domain": ["miR-154","miR-127","miR-411","miR-379","miR-382","miR-433","miR-300"], "paddingInner": 0, "paddingOuter": 0},
  "axis": {"title": "CD4⁻ CD19⁻ cells", "titleX": 134, "titleY": 89, "domain": true, "tickSize": {"condition": {"test": "datum.value === 'miR-154'", "value": 100}, "value": 74}, "labelPadding": {"condition": {"test": "datum.value === 'miR-154'", "value": -88}, "value": -62}}},
 "y": {"field": "value", "type": "quantitative", "scale": {"domain": [0, 311.5], "nice": false}, "axis": {"values": [0,50,100,150,200,250,300], "title": null}}},
 "layer": [
  {"mark": {"type": "bar", "stroke": "black", "strokeWidth": 1}, "encoding": {
    "xOffset": {"field": "strain", "type": "nominal", "scale": {"domain": ["MRL","MRL-lpr"], "paddingInner": 0, "paddingOuter": 0.8}},
    "fill": {"field": "strain", "type": "nominal", "scale": {"domain": ["MRL","MRL-lpr"], "range": ["#000000","#ffffff"]},
     "legend": {"title": null, "legendX": 155, "legendY": -6.5},
     "condition": [{"test": "datum.strain === 'MRL-lpr' && datum.value > 150", "value": {"expr": "M90"}}, {"test": "datum.strain === 'MRL-lpr' && datum.value > 100", "value": {"expr": "M45"}}, {"test": "datum.strain === 'MRL-lpr' && datum.value > 40", "value": {"expr": "M25"}}, {"test": "datum.strain === 'MRL-lpr'", "value": {"expr": "M15"}}]}}},
  {"mark": {"type": "rule", "color": "black"}, "encoding": {"xOffset": {"field": "strain", "type": "nominal"}, "y2": {"field": "hi"}}},
  {"mark": {"type": "tick", "orient": "horizontal", "size": 6, "thickness": 1, "color": "black"}, "encoding": {"xOffset": {"field": "strain", "type": "nominal"}, "y": {"field": "hi", "type": "quantitative"}}},
  {"transform": [{"filter": "datum.sig && datum.mir !== 'miR-433' && datum.mir !== 'miR-300'"}], "mark": {"type": "text", "baseline": "alphabetic", "dy": -1, "fontSize": 14, "color": "black"}, "encoding": {"xOffset": {"field": "strain", "type": "nominal"}, "y": {"field": "hi", "type": "quantitative"}, "text": {"field": "sig"}}},
  {"transform": [{"filter": "datum.strain === 'MRL' && (datum.mir === 'miR-433' || datum.mir === 'miR-300')"}], "mark": {"type": "rect", "filled": false, "stroke": "#a0a0a0"}, "encoding": {"y": {"datum": 26.6}, "y2": {"datum": 26.6}}},
  {"transform": [{"filter": "datum.strain === 'MRL' && (datum.mir === 'miR-433' || datum.mir === 'miR-300')"}], "mark": {"type": "rect", "filled": false, "stroke": "#a0a0a0"}, "encoding": {"y": {"datum": -11.2}, "y2": {"datum": -11.2}}},
  {"transform": [{"filter": "datum.strain === 'MRL' && datum.mir === 'miR-433'"}], "mark": {"type": "rule", "color": "#a0a0a0"}, "encoding": {"x": {"field": "mir", "type": "nominal", "bandPosition": 0}, "y": {"datum": 26.6}, "y2": {"datum": -11.2}}},
  {"transform": [{"filter": "datum.strain === 'MRL' && datum.mir === 'miR-300'"}], "mark": {"type": "rule", "color": "#a0a0a0"}, "encoding": {"x": {"field": "mir", "type": "nominal", "bandPosition": 1}, "y": {"datum": 26.6}, "y2": {"datum": -11.2}}},
  {"transform": [{"filter": "datum.strain === 'MRL' && datum.mir === 'miR-300'"}], "mark": {"type": "point", "shape": "M0,0.92L0,-0.5M0,-0.92L0.28,-0.38L-0.28,-0.38Z", "size": 408, "angle": 26, "filled": true, "fill": "#555555", "stroke": "#555555", "strokeWidth": 1.3, "opacity": 1}, "encoding": {"x": {"field": "mir", "type": "nominal", "bandPosition": 0.061}, "y": {"datum": 47.5}}}
 ]},
{"encoding": {
 "x": {"field": "mir", "type": "nominal", "scale": {"domain": ["miR-433","miR-300"], "paddingInner": 0, "paddingOuter": 0, "range": [189.7, 252]}, "axis": null},
 "y": {"field": "value", "type": "quantitative", "scale": {"domain": [-15.36, 38.96], "nice": false, "zero": false}, "axis": {"orient": "left", "offset": -190, "values": [0,10,20], "domain": false, "tickSize": 3, "labelFontSize": 12, "labelPadding": 2, "title": null, "tickColor": "#555555"}}},
 "layer": [
  {"transform": [{"filter": "datum.strain === 'MRL' && (datum.mir === 'miR-433' || datum.mir === 'miR-300')"}], "mark": {"type": "rect", "filled": false, "stroke": "#555555"}, "encoding": {"y": {"datum": 20}, "y2": {"datum": 20}}},
  {"transform": [{"filter": "datum.strain === 'MRL' && (datum.mir === 'miR-433' || datum.mir === 'miR-300')"}], "mark": {"type": "rect", "filled": false, "stroke": "#555555"}, "encoding": {"y": {"datum": 0}, "y2": {"datum": 0}}},
  {"transform": [{"filter": "datum.strain === 'MRL' && datum.mir === 'miR-433'"}], "mark": {"type": "rule", "color": "#555555"}, "encoding": {"x": {"field": "mir", "type": "nominal", "bandPosition": 0}, "y": {"datum": 0}, "y2": {"datum": 20}}},
  {"transform": [{"filter": "datum.strain === 'MRL' && datum.mir === 'miR-300'"}], "mark": {"type": "rule", "color": "#555555"}, "encoding": {"x": {"field": "mir", "type": "nominal", "bandPosition": 1}, "y": {"datum": 0}, "y2": {"datum": 20}}},
  {"transform": [{"filter": {"field": "mir", "oneOf": ["miR-433","miR-300"]}}], "mark": {"type": "bar", "stroke": "black", "strokeWidth": 1}, "encoding": {"xOffset": {"field": "strain", "type": "nominal", "scale": {"domain": ["MRL","MRL-lpr"], "paddingInner": 0, "paddingOuter": 0.875}}, "fill": {"condition": {"test": "datum.strain === 'MRL-lpr'", "value": {"expr": "I33"}}, "value": "black"}}},
  {"transform": [{"filter": {"field": "mir", "oneOf": ["miR-433","miR-300"]}}], "mark": {"type": "rule", "color": "black"}, "encoding": {"xOffset": {"field": "strain", "type": "nominal"}, "y2": {"field": "hi"}}},
  {"transform": [{"filter": {"field": "mir", "oneOf": ["miR-433","miR-300"]}}], "mark": {"type": "tick", "orient": "horizontal", "size": 5, "thickness": 1, "color": "black"}, "encoding": {"xOffset": {"field": "strain", "type": "nominal"}, "y": {"field": "hi", "type": "quantitative"}}},
  {"transform": [{"filter": "datum.sig && (datum.mir === 'miR-433' || datum.mir === 'miR-300')"}], "mark": {"type": "text", "baseline": "alphabetic", "dy": -1, "fontSize": 14, "color": "black"}, "encoding": {"xOffset": {"field": "strain", "type": "nominal"}, "y": {"field": "hi", "type": "quantitative"}, "text": {"field": "sig"}}},
  {"transform": [{"filter": "datum.strain === 'MRL' && datum.mir === 'miR-300'"}], "mark": {"type": "text", "text": "p=0.06", "angle": -12, "fontSize": 12, "color": "#333333", "align": "center", "baseline": "middle"}, "encoding": {"x": {"field": "mir", "type": "nominal", "bandPosition": 1.07}, "y": {"datum": 25}}}
 ]}
],
"resolve": {"scale": {"x": "independent", "y": "independent", "xOffset": "independent"}}
}
],
"config": {
 "font": "Liberation Sans",
 "view": {"stroke": null},
 "axis": {"labelFont": "Liberation Sans", "labelColor": "black", "labelFontSize": 14, "domainColor": "#8a8a8a", "tickColor": "#8a8a8a", "grid": false, "titleFont": "Liberation Sans", "titleColor": "black", "titleFontSize": 15, "titleFontWeight": "bold"},
 "axisX": {"labelAngle": -90, "labelAlign": "right", "labelBaseline": "middle", "tickBand": "extent", "titleBaseline": "alphabetic", "titleAlign": "center"},
 "axisY": {"tickSize": 5, "labelPadding": 7},
 "title": {"font": "Liberation Sans", "fontSize": 17, "fontWeight": "bold", "color": "black"},
 "legend": {"orient": "none", "direction": "horizontal", "symbolType": "square", "symbolSize": 64, "symbolStrokeColor": "black", "symbolStrokeWidth": 1, "labelFontSize": 14, "labelColor": "black", "labelFont": "Liberation Sans", "columnPadding": 10, "labelOffset": 0, "padding": 0},
 "text": {"font": "Liberation Sans"}
}
}
